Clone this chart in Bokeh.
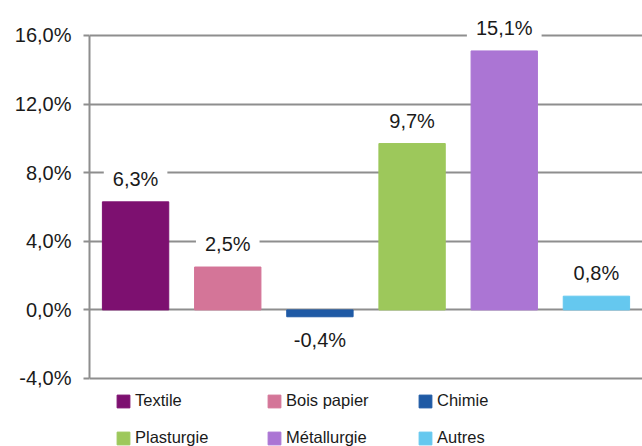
from bokeh.plotting import figure
from bokeh.models import (ColumnDataSource, FactorRange, Range1d, FixedTicker,
                          CustomJSTickFormatter, Legend, LegendItem)
from bokeh.core.properties import value
from bokeh.embed import file_html
from bokeh.resources import INLINE

categories = ["Textile", "Bois papier", "Chimie", "Plasturgie", "Métallurgie", "Autres"]
values = [6.3, 2.5, -0.4, 9.7, 15.1, 0.8]
colors = ["#7D1070", "#D47598", "#1F5AA5", "#9DC85B", "#AB75D4", "#65C8EF"]
y_ticks = [-4, 0, 4, 8, 12, 16]

labels = [f"{v:.1f}".replace(".", ",") + "%" for v in values]
offsets = [-23 if v >= 0 else 23 for v in values]

src = ColumnDataSource(dict(cat=categories, val=values, color=colors,
                            label=labels, off=offsets))

FONT = "Liberation Sans"
GRID = "#8E8E8E"
TXT = "#1A1A1A"

# frame spans the full canvas height; the visible axis is bounded to -4..16
p = figure(width=642, height=446, x_range=FactorRange(*categories, range_padding=0),
           y_range=Range1d(-7.965, 18.04), output_backend="svg", toolbar_location=None,
           min_border_left=89, min_border_right=0, min_border_top=0, min_border_bottom=0)
p.outline_line_color = None
p.xaxis.visible = False
p.xgrid.visible = False
p.ygrid.grid_line_color = GRID
p.ygrid.grid_line_width = 2
p.ygrid.ticker = FixedTicker(ticks=y_ticks)

ax = p.yaxis[0]
ax.ticker = FixedTicker(ticks=y_ticks)
ax.bounds = (-4, 16)
ax.formatter = CustomJSTickFormatter(code="return tick.toFixed(1).replace('.', ',') + '%';")
ax.axis_line_color = GRID
ax.axis_line_width = 2
ax.major_tick_line_color = GRID
ax.major_tick_line_width = 2
ax.major_tick_out = 6
ax.major_tick_in = 0
ax.minor_tick_line_color = None
ax.major_label_standoff = 12
ax.major_label_text_font = FONT
ax.major_label_text_font_size = "20px"
ax.major_label_text_color = TXT

r = p.vbar(x="cat", top="val", bottom=0, width=0.72, color="color", source=src)

p.text(x="cat", y="val", text="label", y_offset="off", source=src,
       text_align="center", text_baseline="middle",
       text_font=value(FONT), text_font_size="20px", text_color=TXT,
       background_fill_color="white", padding=(9, 2))

items = [LegendItem(label=c, renderers=[r], index=i) for i, c in enumerate(categories)]
legend = Legend(items=items, location=(26, -1), orientation="horizontal", ncols=3,
                spacing=18, glyph_width=16, glyph_height=16, label_standoff=4,
                label_width=113, padding=0, margin=0, border_line_color=None,
                background_fill_alpha=0, label_text_font=FONT,
                label_text_font_size="16.5px", label_text_color=TXT)
p.add_layout(legend)

open("out.html", "w").write(file_html(p, INLINE))
